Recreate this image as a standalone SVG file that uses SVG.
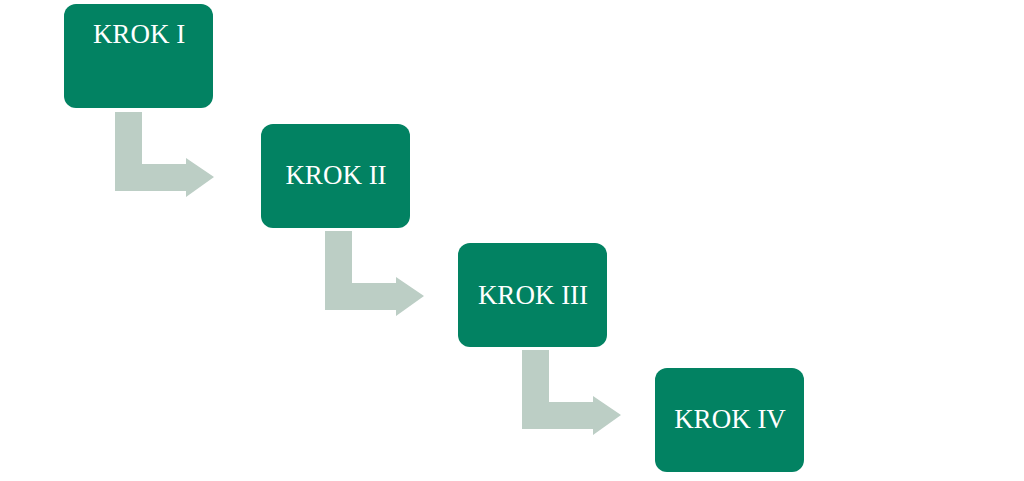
<svg xmlns="http://www.w3.org/2000/svg" width="1024" height="481" viewBox="0 0 1024 481">
<style>
.box{fill:#028262}
.t{font-family:"Liberation Serif",serif;font-size:27px;fill:#fff;text-anchor:middle}
.ar{fill:#bccec5}
</style>
<defs><path id="arr" d="M0 0H27V52H71V46H99L71 85V79H0Z"/></defs>
<rect width="1024" height="481" fill="#fff"/>
<g id="connectors">
<path class="ar" d="M115 112H142V164H186V158L214 177L186 197V191H115Z"/>
<path class="ar" d="M325 231H352V283H396V277L424 296L396 316V310H325Z"/>
<path class="ar" d="M522 350H549V402H593V396L621 415L593 435V429H522Z"/>
</g>
<g id="n1"><rect class="box" x="64" y="4" width="149" height="104" rx="12"/><text class="t" x="139" y="43">KROK I</text></g>
<g id="n2"><rect class="box" x="261" y="124" width="149" height="104" rx="12"/><text class="t" x="336" y="184">KROK II</text></g>
<g id="n3"><rect class="box" x="458" y="243" width="149" height="104" rx="12"/><text class="t" x="533" y="304">KROK III</text></g>
<g id="n4"><rect class="box" x="655" y="368" width="149" height="104" rx="12"/><text class="t" x="730" y="428">KROK IV</text></g>
</svg>
